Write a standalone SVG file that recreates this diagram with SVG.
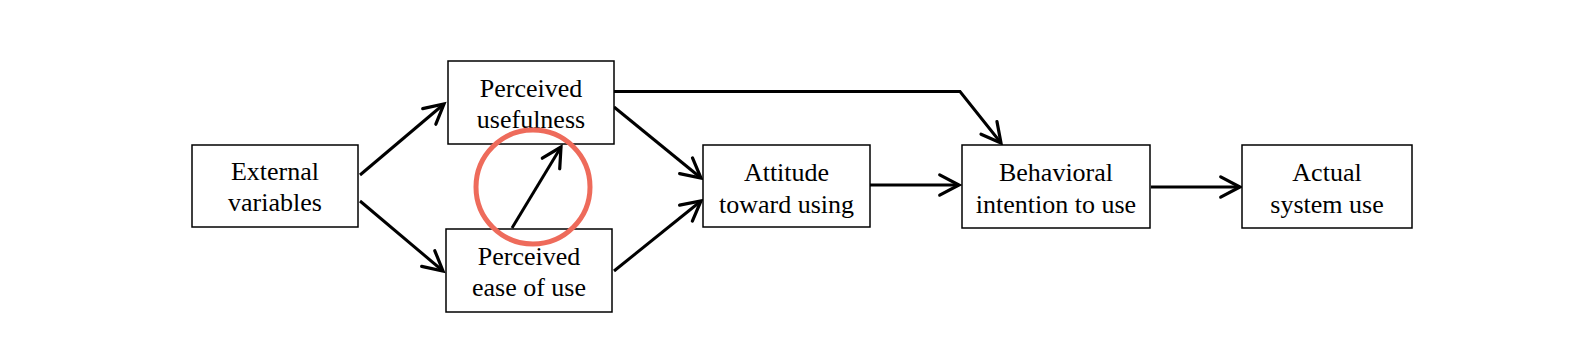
<svg xmlns="http://www.w3.org/2000/svg" width="1586" height="361" viewBox="0 0 1586 361">
<defs>
<style>
.box{fill:#fff;stroke:#000;stroke-width:1.5}
.t{font-family:"Liberation Serif","Times New Roman",serif;font-size:26px;fill:#000;text-anchor:middle}
.c{fill:none;stroke:#000;stroke-width:3;marker-end:url(#arr)}
</style>
<marker id="arr" markerUnits="userSpaceOnUse" markerWidth="30" markerHeight="30" viewBox="-22 -14 26 28" refX="0" refY="0" orient="auto" overflow="visible">
<path d="M-18,-9.5 L0,0 L-18,9.5" fill="none" stroke="#000" stroke-width="3" stroke-linecap="round" stroke-linejoin="miter"/>
</marker>
</defs>
<rect width="1586" height="361" fill="#fff"/>
<g id="connectors">
<line class="c" x1="360" y1="175" x2="444" y2="104"/>
<line class="c" x1="360" y1="201" x2="443" y2="271"/>
<line class="c" x1="512" y1="228" x2="561" y2="147"/>
<line class="c" x1="614" y1="107" x2="701" y2="178"/>
<line class="c" x1="614" y1="271" x2="701" y2="201"/>
<polyline class="c" points="614,91.5 960,91.5 1001,143"/>
<line class="c" x1="870" y1="185" x2="959" y2="185"/>
<line class="c" x1="1151" y1="187" x2="1240" y2="187"/>
</g>
<g id="external-variables">
<rect class="box" x="192" y="145" width="166" height="82"/>
<text class="t" x="275" y="180">External</text>
<text class="t" x="275" y="211">variables</text>
</g>
<g id="perceived-usefulness">
<rect class="box" x="448" y="61" width="166" height="83"/>
<text class="t" x="531" y="97">Perceived</text>
<text class="t" x="531" y="128">usefulness</text>
</g>
<g id="perceived-ease-of-use">
<rect class="box" x="446" y="229" width="166" height="83"/>
<text class="t" x="529" y="265">Perceived</text>
<text class="t" x="529" y="296">ease of use</text>
</g>
<g id="attitude">
<rect class="box" x="703" y="145" width="167" height="82"/>
<text class="t" x="786.5" y="181">Attitude</text>
<text class="t" x="786.5" y="213">toward using</text>
</g>
<g id="behavioral-intention">
<rect class="box" x="962" y="145" width="188" height="83"/>
<text class="t" x="1056" y="181">Behavioral</text>
<text class="t" x="1056" y="213">intention to use</text>
</g>
<g id="actual-system-use">
<rect class="box" x="1242" y="145" width="170" height="83"/>
<text class="t" x="1327" y="181">Actual</text>
<text class="t" x="1327" y="213">system use</text>
</g>
<g id="highlight">
<circle cx="533" cy="187" r="57" fill="none" stroke="#EE6B5B" stroke-width="5"/>
</g>
</svg>
